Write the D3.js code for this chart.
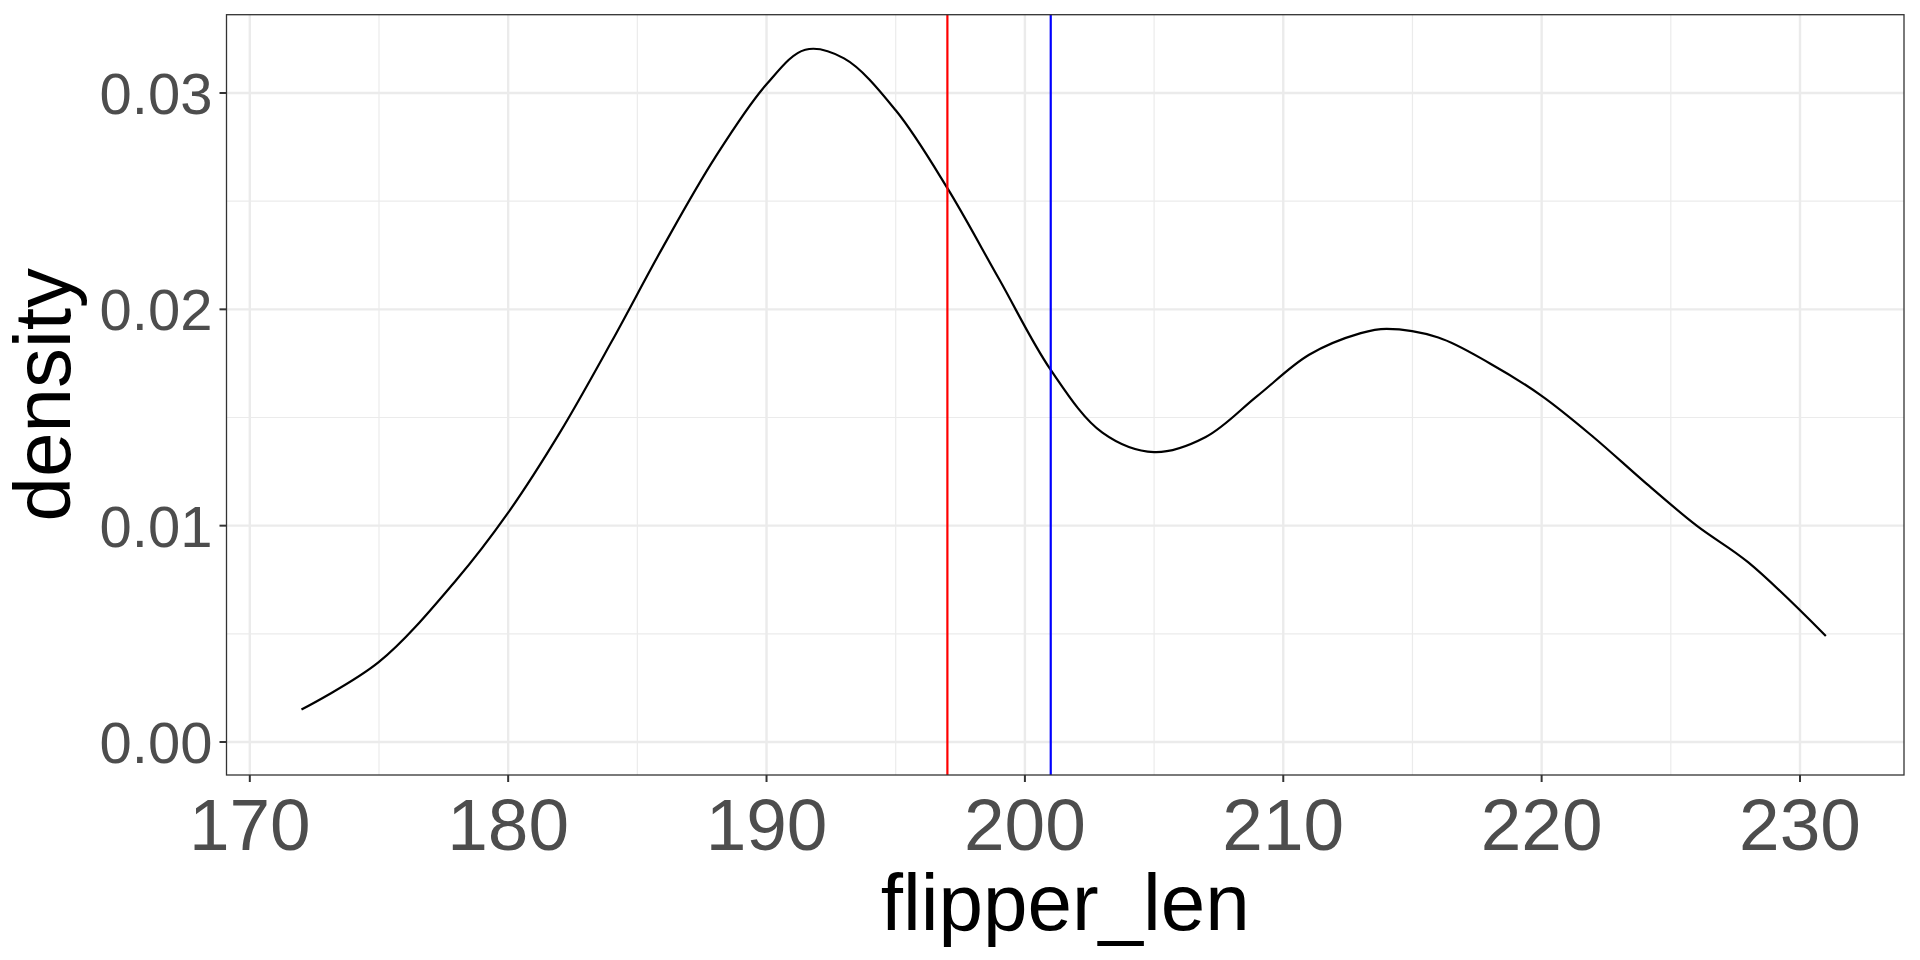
<!DOCTYPE html>
<html><head><meta charset="utf-8">
<script src="https://cdn.jsdelivr.net/npm/d3@7"></script>
<style>body{margin:0;background:#fff}svg{display:block}</style>
</head><body><svg id="c" width="1920" height="960"></svg>
<script>
const flipperLen = [172,175,178,180,182,184,186,188,190,191.5,193,195,197,199,201,203,205,207,209,211,213,214,216,218,220,222,224,226,228,231];
const density = [0.0015,0.0037,0.0075,0.0106,0.0143,0.0185,0.0229,0.0270,0.0304,0.0320,0.0316,0.0292,0.0256,0.0214,0.0172,0.0143,0.0134,0.0141,0.0160,0.0179,0.0189,0.0191,0.0187,0.0175,0.0160,0.0141,0.0120,0.0100,0.0083,0.0049];
const xTicks = [170,180,190,200,210,220,230];
const xMinor = [175,185,195,205,215,225];
const yTicks = [0,0.01,0.02,0.03];
const yMinor = [0.005,0.015,0.025];
const vLines = [{v:197,c:"#ff0000"},{v:201,c:"#0000ff"}];

const L=226.5,R=1904,T=14.7,B=775;
const x=d3.scaleLinear().domain([170,230]).range([249.8,1800]);
const y=d3.scaleLinear().domain([0,0.03]).range([742,93]);
const svg=d3.select("#c");
const g=svg.append("g");
g.selectAll(".xm").data(xMinor).join("line").attr("x1",d=>x(d)).attr("x2",d=>x(d)).attr("y1",T).attr("y2",B).attr("stroke","#ebebeb").attr("stroke-width",1.2);
g.selectAll(".ym").data(yMinor).join("line").attr("x1",L).attr("x2",R).attr("y1",d=>y(d)).attr("y2",d=>y(d)).attr("stroke","#ebebeb").attr("stroke-width",1.2);
g.selectAll(".xM").data(xTicks).join("line").attr("x1",d=>x(d)).attr("x2",d=>x(d)).attr("y1",T).attr("y2",B).attr("stroke","#ebebeb").attr("stroke-width",2.4);
g.selectAll(".yM").data(yTicks).join("line").attr("x1",L).attr("x2",R).attr("y1",d=>y(d)).attr("y2",d=>y(d)).attr("stroke","#ebebeb").attr("stroke-width",2.4);
svg.append("path").datum(flipperLen.map((d,i)=>[d,density[i]]))
 .attr("d",d3.line().x(d=>x(d[0])).y(d=>y(d[1])).curve(d3.curveCatmullRom.alpha(0.5)))
 .attr("fill","none").attr("stroke","#000").attr("stroke-width",2.2);
svg.selectAll(".vl").data(vLines).join("line").attr("x1",d=>x(d.v)).attr("x2",d=>x(d.v)).attr("y1",T).attr("y2",B).attr("stroke",d=>d.c).attr("stroke-width",2.2);
svg.append("rect").attr("x",L).attr("y",T).attr("width",R-L).attr("height",B-T).attr("fill","none").attr("stroke","#333").attr("stroke-width",1.3);
svg.selectAll(".xt").data(xTicks).join("line").attr("x1",d=>x(d)).attr("x2",d=>x(d)).attr("y1",B).attr("y2",B+7).attr("stroke","#333").attr("stroke-width",2);
svg.selectAll(".yt").data(yTicks).join("line").attr("x1",L-7).attr("x2",L).attr("y1",d=>y(d)).attr("y2",d=>y(d)).attr("stroke","#333").attr("stroke-width",2);
svg.selectAll(".xl").data(xTicks).join("text").attr("x",d=>x(d)).attr("y",B+75).attr("text-anchor","middle")
 .attr("font-family","Liberation Sans, Arial").attr("font-size",73).attr("fill","#4d4d4d").text(d=>d);
svg.selectAll(".yl").data(yTicks).join("text").attr("x",L-14).attr("y",d=>y(d)).attr("dy","0.36em").attr("text-anchor","end")
 .attr("font-family","Liberation Sans, Arial").attr("font-size",58).attr("fill","#4d4d4d").text(d=>d.toFixed(2));
svg.append("text").attr("x",(L+R)/2).attr("y",930).attr("text-anchor","middle").attr("font-family","Liberation Sans, Arial").attr("font-size",80).attr("fill","#000").text("flipper_len");
svg.append("text").attr("transform",`translate(70,${(T+B)/2}) rotate(-90)`).attr("text-anchor","middle").attr("font-family","Liberation Sans, Arial").attr("font-size",80).attr("fill","#000").text("density");
</script></body></html>
